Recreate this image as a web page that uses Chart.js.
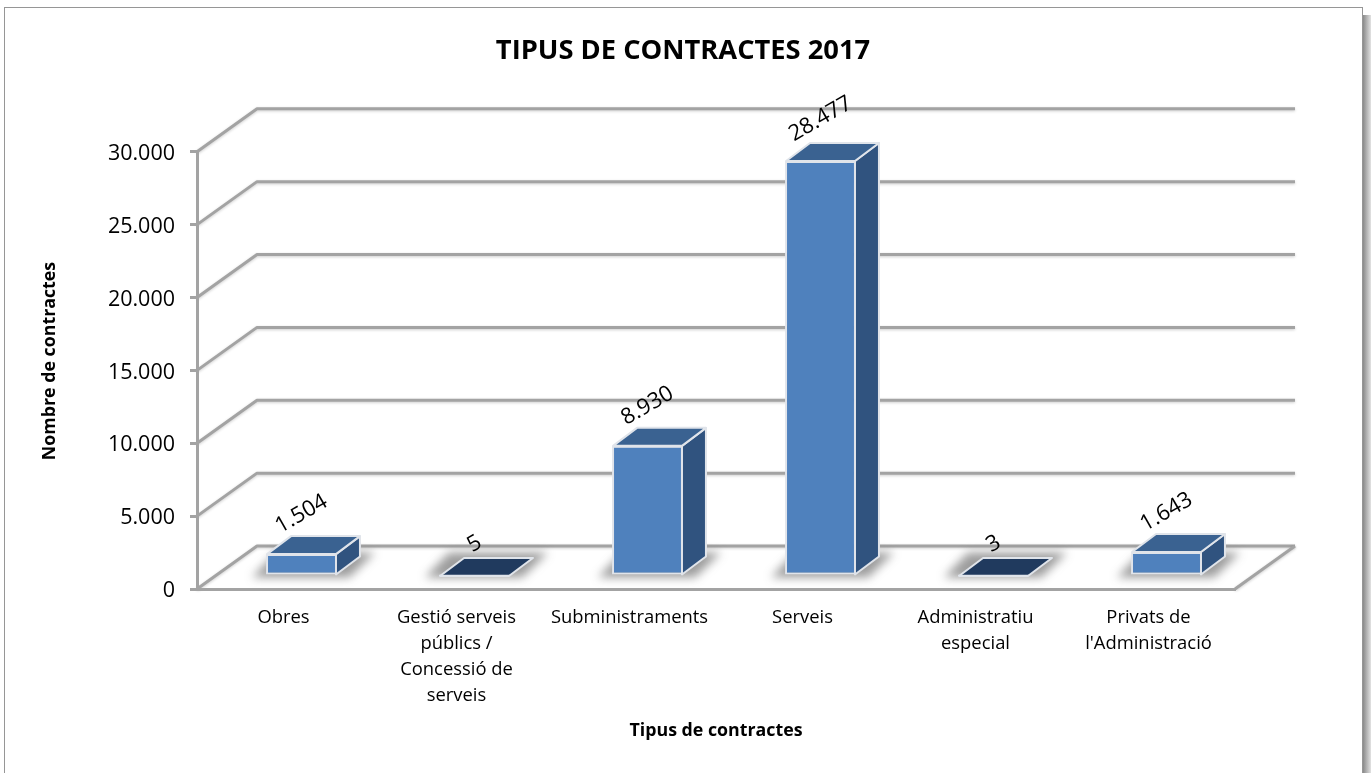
<!DOCTYPE html>
<html>
<head>
<meta charset="utf-8">
<title>Tipus de contractes 2017</title>
<script src="https://cdn.jsdelivr.net/npm/chart.js@4"></script>
<style>
    html, body { margin: 0; padding: 0; background: #fff; overflow: hidden; }
    canvas { display: block; }
</style>
</head>
<body>
<canvas id="contractsChart" width="1371" height="773"></canvas>
<script>
// Chart data
const categories = [
    'Obres',
    ['Gestió serveis', 'públics /', 'Concessió de', 'serveis'],
    'Subministraments',
    'Serveis',
    ['Administratiu', 'especial'],
    ['Privats de', "l'Administració"]
];
const contractCounts = [1504, 5, 8930, 28477, 3, 1643];
const valueLabels = ['1.504', '5', '8.930', '28.477', '3', '1.643'];
const yTickLabels = ['0', '5.000', '10.000', '15.000', '20.000', '25.000', '30.000'];
const chartTitle = 'TIPUS DE CONTRACTES 2017';
const xAxisTitle = 'Tipus de contractes';
const yAxisTitle = 'Nombre de contractes';

// 3D look: the back wall sits up and right of the front plane
const WALL_DX = 60, WALL_DY = -43;
const BAR_DX = 18, BAR_DY = -13;
const DEPTH_DX = 24, DEPTH_DY = -18;
const GRID_COLOR = '#a3a3a3';
const EDGE_COLOR = '#e0e4ea';
const FONT = '"Open Sans", sans-serif';

const perspectivePlugin = {
    id: 'perspective',
    beforeDraw(chart) {
        const ctx = chart.ctx;
        const { left, right, bottom } = chart.chartArea;
        const yScale = chart.scales.y;

        // Outer frame, with the drop shadow on its right side
        ctx.save();
        const frameShadow = ctx.createLinearGradient(1363, 0, 1371, 0);
        frameShadow.addColorStop(0, '#8a8a8a');
        frameShadow.addColorStop(1, '#e2e2e2');
        ctx.fillStyle = frameShadow;
        ctx.fillRect(1363, 15, 8, 758);
        ctx.strokeStyle = '#969696';
        ctx.lineWidth = 1;
        ctx.strokeRect(4.5, 7.5, 1358, 800);
        ctx.restore();

        // Walls and floor
        ctx.save();
        ctx.strokeStyle = GRID_COLOR;
        ctx.lineWidth = 3;
        ctx.lineJoin = 'round';
        ctx.shadowColor = 'rgba(0, 0, 0, 0.2)';
        ctx.shadowBlur = 3;
        ctx.shadowOffsetY = 1;
        yScale.ticks.forEach(tick => {
            const y = yScale.getPixelForValue(tick.value);
            ctx.beginPath();
            ctx.moveTo(left, y);
            ctx.lineTo(left + WALL_DX, y + WALL_DY);
            ctx.lineTo(right + WALL_DX, y + WALL_DY);
            ctx.stroke();
        });
        ctx.beginPath();
        ctx.moveTo(right + WALL_DX, bottom + WALL_DY);
        ctx.lineTo(right, bottom);
        ctx.stroke();
        ctx.restore();

        // Y axis title, sits a bit above the middle of the axis
        ctx.save();
        ctx.translate(49.5, 361);
        ctx.rotate(-Math.PI / 2);
        ctx.font = 'bold 17.8px ' + FONT;
        ctx.fillStyle = '#000';
        ctx.textAlign = 'center';
        ctx.textBaseline = 'middle';
        ctx.fillText(yAxisTitle, 0, 0);
        ctx.restore();
    },
    beforeDatasetsDraw(chart) {
        const ctx = chart.ctx;
        const bars = chart.getDatasetMeta(0).data;

        // Everything in the dataset layer moves back from the front plane
        ctx.save();
        ctx.translate(BAR_DX, BAR_DY);

        // Soft shadows on the floor
        bars.forEach(bar => {
            const x0 = bar.x - bar.width / 2;
            const x1 = bar.x + bar.width / 2;
            ctx.save();
            ctx.filter = 'blur(5px)';
            ctx.fillStyle = 'rgba(60, 60, 60, 0.5)';
            ctx.beginPath();
            ctx.moveTo(x0 - 14, bar.base + 3);
            ctx.lineTo(x1 + 12, bar.base + 3);
            ctx.lineTo(x1 + DEPTH_DX + 14, bar.base + DEPTH_DY - 4);
            ctx.lineTo(x0 + DEPTH_DX - 14, bar.base + DEPTH_DY - 4);
            ctx.closePath();
            ctx.fill();
            ctx.restore();
        });

        // Side and top faces
        ctx.lineWidth = 2;
        ctx.lineJoin = 'round';
        ctx.strokeStyle = EDGE_COLOR;
        bars.forEach(bar => {
            const x0 = bar.x - bar.width / 2 + 1;
            const x1 = bar.x + bar.width / 2 - 1;
            const flat = bar.base - bar.y < 2;

            if (!flat) {
                ctx.fillStyle = '#30537f';
                ctx.beginPath();
                ctx.moveTo(x1, bar.y);
                ctx.lineTo(x1 + DEPTH_DX, bar.y + DEPTH_DY);
                ctx.lineTo(x1 + DEPTH_DX, bar.base + DEPTH_DY);
                ctx.lineTo(x1, bar.base);
                ctx.closePath();
                ctx.fill();
                ctx.stroke();
            }

            ctx.fillStyle = flat ? '#203a5e' : '#3a6291';
            ctx.beginPath();
            ctx.moveTo(x0, bar.y);
            ctx.lineTo(x1, bar.y);
            ctx.lineTo(x1 + DEPTH_DX, bar.y + DEPTH_DY);
            ctx.lineTo(x0 + DEPTH_DX, bar.y + DEPTH_DY);
            ctx.closePath();
            ctx.fill();
            ctx.stroke();
        });
    },
    afterDatasetsDraw(chart) {
        const ctx = chart.ctx;
        ctx.restore();

        // Rotated value labels above the bars
        ctx.save();
        ctx.font = '22px ' + FONT;
        ctx.fillStyle = '#000';
        ctx.textAlign = 'center';
        ctx.textBaseline = 'middle';
        chart.getDatasetMeta(0).data.forEach((bar, i) => {
            const lift = 30 + valueLabels[i].length * 2;
            ctx.save();
            ctx.translate(bar.x + BAR_DX, bar.y + BAR_DY - lift);
            ctx.rotate(-30 * Math.PI / 180);
            ctx.fillText(valueLabels[i], 0, 0);
            ctx.restore();
        });
        ctx.restore();
    }
};

new Chart(document.getElementById('contractsChart').getContext('2d'), {
    type: 'bar',
    data: {
        labels: categories,
        datasets: [{
            data: contractCounts,
            backgroundColor: '#4f81bd',
            borderColor: EDGE_COLOR,
            borderWidth: 2,
            borderSkipped: false,
            categoryPercentage: 1,
            barPercentage: 0.41
        }]
    },
    plugins: [perspectivePlugin],
    options: {
        responsive: false,
        animation: false,
        devicePixelRatio: 1,
        layout: { padding: { right: 5 } },
        plugins: {
            legend: { display: false },
            tooltip: { enabled: false },
            title: {
                display: true,
                text: chartTitle,
                color: '#000',
                font: { family: FONT, size: 27.3, weight: 'bold', lineHeight: 1.2 },
                padding: { top: 35, bottom: 84 }
            }
        },
        scales: {
            x: {
                afterFit(scale) { scale.height = 184; },
                grid: { display: false },
                border: { display: true, color: GRID_COLOR, width: 3 },
                ticks: {
                    color: '#000',
                    font: { family: FONT, size: 18.4, lineHeight: 1.41 },
                    maxRotation: 0,
                    autoSkip: false,
                    padding: 8
                },
                title: {
                    display: true,
                    text: xAxisTitle,
                    color: '#000',
                    font: { family: FONT, size: 17.8, weight: 'bold' },
                    padding: { top: 4, bottom: 31 }
                }
            },
            y: {
                min: 0,
                max: 30000,
                afterFit(scale) { scale.width = 197; },
                grid: { drawOnChartArea: false, color: GRID_COLOR, lineWidth: 3, tickLength: 7 },
                border: { display: true, color: GRID_COLOR, width: 3 },
                ticks: {
                    stepSize: 5000,
                    color: '#000',
                    font: { family: FONT, size: 21.5 },
                    padding: 15,
                    labelOffset: 2,
                    callback: (value, index) => yTickLabels[index]
                }
            },
            // empty axis, only keeps the space for the back wall on the right
            rightGap: {
                position: 'right',
                afterFit(scale) { scale.width = 131; },
                grid: { display: false },
                border: { display: false },
                ticks: { display: false }
            }
        }
    }
});
</script>
</body>
</html>
